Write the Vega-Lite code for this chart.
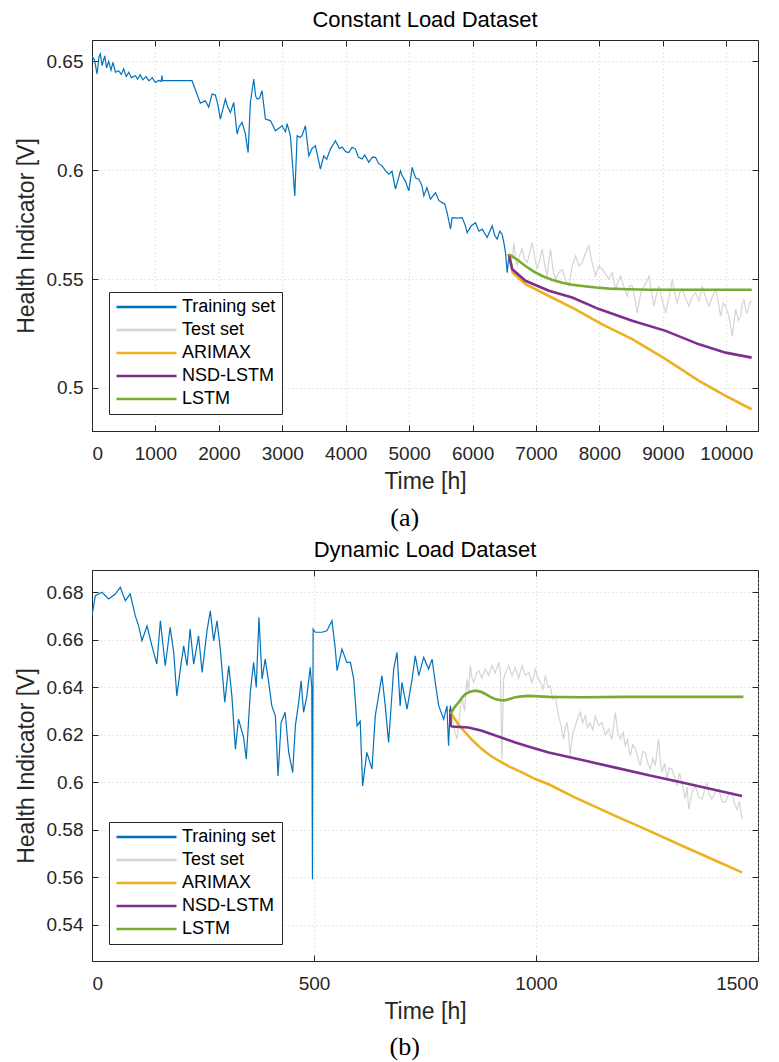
{
  "$schema": "https://vega.github.io/schema/vega-lite/v6.json",
  "background": "white",
  "padding": {"left": 14, "top": 8, "right": 20, "bottom": 0},
  "spacing": 7,
  "resolve": {"scale": {"color": "independent"}, "legend": {"color": "independent"}},
  "config": {
    "font": "Liberation Sans",
    "view": {"stroke": "#262626", "strokeWidth": 1},
    "axis": {
      "domainColor": "#262626", "tickColor": "#262626", "labelColor": "#262626", "titleColor": "#262626",
      "labelFont": "Liberation Sans", "titleFont": "Liberation Sans", "labelFontSize": 19, "titleFontSize": 23,
      "titleFontWeight": "normal", "tickSize": -6, "gridColor": "#cfcfcf", "gridDash": [1, 3], "gridWidth": 1
    },
    "title": {"font": "Liberation Sans", "fontSize": 22, "fontWeight": "normal", "color": "#000000"}
  },
  "datasets": {
    "a": [
      {"s": "Training set", "t": 0, "v": 0.6526}, {"s": "Training set", "t": 40, "v": 0.6505}, {"s": "Training set", "t": 79, "v": 0.6442}, {"s": "Training set", "t": 110, "v": 0.652}, {"s": "Training set", "t": 131, "v": 0.6534}, {"s": "Training set", "t": 160, "v": 0.648}, {"s": "Training set", "t": 200, "v": 0.6525}, {"s": "Training set", "t": 230, "v": 0.647}, {"s": "Training set", "t": 263, "v": 0.65}, {"s": "Training set", "t": 300, "v": 0.646}, {"s": "Training set", "t": 330, "v": 0.6495}, {"s": "Training set", "t": 370, "v": 0.645}, {"s": "Training set", "t": 420, "v": 0.6457}, {"s": "Training set", "t": 460, "v": 0.644}, {"s": "Training set", "t": 500, "v": 0.6465}, {"s": "Training set", "t": 540, "v": 0.643}, {"s": "Training set", "t": 580, "v": 0.645}, {"s": "Training set", "t": 620, "v": 0.6425}, {"s": "Training set", "t": 683, "v": 0.6434}, {"s": "Training set", "t": 720, "v": 0.6418}, {"s": "Training set", "t": 760, "v": 0.6438}, {"s": "Training set", "t": 800, "v": 0.6415}, {"s": "Training set", "t": 850, "v": 0.643}, {"s": "Training set", "t": 900, "v": 0.641}, {"s": "Training set", "t": 950, "v": 0.6425}, {"s": "Training set", "t": 999, "v": 0.6403}, {"s": "Training set", "t": 1050, "v": 0.6412}, {"s": "Training set", "t": 1090, "v": 0.6408}, {"s": "Training set", "t": 1104, "v": 0.6435}, {"s": "Training set", "t": 1110, "v": 0.6411}, {"s": "Training set", "t": 1577, "v": 0.6411}, {"s": "Training set", "t": 1708, "v": 0.6308}, {"s": "Training set", "t": 1787, "v": 0.6319}, {"s": "Training set", "t": 1840, "v": 0.629}, {"s": "Training set", "t": 1893, "v": 0.635}, {"s": "Training set", "t": 1945, "v": 0.6345}, {"s": "Training set", "t": 1985, "v": 0.63}, {"s": "Training set", "t": 2024, "v": 0.6235}, {"s": "Training set", "t": 2103, "v": 0.6327}, {"s": "Training set", "t": 2140, "v": 0.629}, {"s": "Training set", "t": 2182, "v": 0.6265}, {"s": "Training set", "t": 2235, "v": 0.6311}, {"s": "Training set", "t": 2287, "v": 0.6166}, {"s": "Training set", "t": 2320, "v": 0.62}, {"s": "Training set", "t": 2366, "v": 0.622}, {"s": "Training set", "t": 2419, "v": 0.6166}, {"s": "Training set", "t": 2461, "v": 0.6081}, {"s": "Training set", "t": 2497, "v": 0.6311}, {"s": "Training set", "t": 2550, "v": 0.6419}, {"s": "Training set", "t": 2580, "v": 0.634}, {"s": "Training set", "t": 2603, "v": 0.6327}, {"s": "Training set", "t": 2640, "v": 0.633}, {"s": "Training set", "t": 2681, "v": 0.6365}, {"s": "Training set", "t": 2734, "v": 0.6235}, {"s": "Training set", "t": 2813, "v": 0.6228}, {"s": "Training set", "t": 2892, "v": 0.6181}, {"s": "Training set", "t": 2997, "v": 0.6204}, {"s": "Training set", "t": 3050, "v": 0.6176}, {"s": "Training set", "t": 3076, "v": 0.6214}, {"s": "Training set", "t": 3128, "v": 0.6158}, {"s": "Training set", "t": 3197, "v": 0.5882}, {"s": "Training set", "t": 3234, "v": 0.6158}, {"s": "Training set", "t": 3280, "v": 0.615}, {"s": "Training set", "t": 3312, "v": 0.616}, {"s": "Training set", "t": 3365, "v": 0.6204}, {"s": "Training set", "t": 3418, "v": 0.6066}, {"s": "Training set", "t": 3470, "v": 0.61}, {"s": "Training set", "t": 3523, "v": 0.6112}, {"s": "Training set", "t": 3601, "v": 0.6005}, {"s": "Training set", "t": 3654, "v": 0.6066}, {"s": "Training set", "t": 3700, "v": 0.605}, {"s": "Training set", "t": 3759, "v": 0.6097}, {"s": "Training set", "t": 3838, "v": 0.6135}, {"s": "Training set", "t": 3900, "v": 0.61}, {"s": "Training set", "t": 3943, "v": 0.6106}, {"s": "Training set", "t": 4000, "v": 0.6085}, {"s": "Training set", "t": 4048, "v": 0.6081}, {"s": "Training set", "t": 4100, "v": 0.6105}, {"s": "Training set", "t": 4153, "v": 0.6097}, {"s": "Training set", "t": 4200, "v": 0.606}, {"s": "Training set", "t": 4259, "v": 0.6051}, {"s": "Training set", "t": 4300, "v": 0.607}, {"s": "Training set", "t": 4364, "v": 0.6036}, {"s": "Training set", "t": 4420, "v": 0.606}, {"s": "Training set", "t": 4469, "v": 0.6059}, {"s": "Training set", "t": 4520, "v": 0.603}, {"s": "Training set", "t": 4574, "v": 0.602}, {"s": "Training set", "t": 4620, "v": 0.6}, {"s": "Training set", "t": 4680, "v": 0.5982}, {"s": "Training set", "t": 4730, "v": 0.5995}, {"s": "Training set", "t": 4784, "v": 0.5913}, {"s": "Training set", "t": 4863, "v": 0.5997}, {"s": "Training set", "t": 4890, "v": 0.5974}, {"s": "Training set", "t": 4940, "v": 0.595}, {"s": "Training set", "t": 4995, "v": 0.5905}, {"s": "Training set", "t": 5047, "v": 0.6013}, {"s": "Training set", "t": 5100, "v": 0.5965}, {"s": "Training set", "t": 5153, "v": 0.5959}, {"s": "Training set", "t": 5200, "v": 0.593}, {"s": "Training set", "t": 5232, "v": 0.5882}, {"s": "Training set", "t": 5280, "v": 0.592}, {"s": "Training set", "t": 5336, "v": 0.5867}, {"s": "Training set", "t": 5415, "v": 0.5897}, {"s": "Training set", "t": 5470, "v": 0.586}, {"s": "Training set", "t": 5520, "v": 0.5851}, {"s": "Training set", "t": 5560, "v": 0.5845}, {"s": "Training set", "t": 5599, "v": 0.5805}, {"s": "Training set", "t": 5652, "v": 0.5729}, {"s": "Training set", "t": 5678, "v": 0.5782}, {"s": "Training set", "t": 5750, "v": 0.578}, {"s": "Training set", "t": 5836, "v": 0.5782}, {"s": "Training set", "t": 5880, "v": 0.575}, {"s": "Training set", "t": 5915, "v": 0.5713}, {"s": "Training set", "t": 5980, "v": 0.5745}, {"s": "Training set", "t": 6046, "v": 0.5759}, {"s": "Training set", "t": 6100, "v": 0.572}, {"s": "Training set", "t": 6151, "v": 0.5729}, {"s": "Training set", "t": 6230, "v": 0.5691}, {"s": "Training set", "t": 6309, "v": 0.5744}, {"s": "Training set", "t": 6350, "v": 0.57}, {"s": "Training set", "t": 6388, "v": 0.5683}, {"s": "Training set", "t": 6430, "v": 0.572}, {"s": "Training set", "t": 6467, "v": 0.5705}, {"s": "Training set", "t": 6493, "v": 0.5667}, {"s": "Training set", "t": 6520, "v": 0.562}, {"s": "Training set", "t": 6546, "v": 0.5529}, {"s": "Training set", "t": 6572, "v": 0.5606}, {"s": "Training set", "t": 6600, "v": 0.5614},
      {"s": "Test set", "t": 6600, "v": 0.5614}, {"s": "Test set", "t": 6625, "v": 0.559}, {"s": "Test set", "t": 6651, "v": 0.5667}, {"s": "Test set", "t": 6675, "v": 0.56}, {"s": "Test set", "t": 6703, "v": 0.556}, {"s": "Test set", "t": 6740, "v": 0.561}, {"s": "Test set", "t": 6782, "v": 0.5637}, {"s": "Test set", "t": 6820, "v": 0.559}, {"s": "Test set", "t": 6861, "v": 0.5575}, {"s": "Test set", "t": 6900, "v": 0.562}, {"s": "Test set", "t": 6940, "v": 0.5667}, {"s": "Test set", "t": 6980, "v": 0.56}, {"s": "Test set", "t": 7019, "v": 0.5545}, {"s": "Test set", "t": 7060, "v": 0.559}, {"s": "Test set", "t": 7098, "v": 0.5637}, {"s": "Test set", "t": 7140, "v": 0.556}, {"s": "Test set", "t": 7177, "v": 0.5514}, {"s": "Test set", "t": 7200, "v": 0.558}, {"s": "Test set", "t": 7229, "v": 0.5637}, {"s": "Test set", "t": 7270, "v": 0.554}, {"s": "Test set", "t": 7308, "v": 0.5499}, {"s": "Test set", "t": 7360, "v": 0.553}, {"s": "Test set", "t": 7413, "v": 0.5545}, {"s": "Test set", "t": 7460, "v": 0.55}, {"s": "Test set", "t": 7519, "v": 0.5468}, {"s": "Test set", "t": 7570, "v": 0.556}, {"s": "Test set", "t": 7624, "v": 0.5606}, {"s": "Test set", "t": 7680, "v": 0.556}, {"s": "Test set", "t": 7729, "v": 0.5575}, {"s": "Test set", "t": 7780, "v": 0.562}, {"s": "Test set", "t": 7834, "v": 0.5652}, {"s": "Test set", "t": 7880, "v": 0.558}, {"s": "Test set", "t": 7939, "v": 0.5514}, {"s": "Test set", "t": 7990, "v": 0.556}, {"s": "Test set", "t": 8044, "v": 0.5545}, {"s": "Test set", "t": 8100, "v": 0.552}, {"s": "Test set", "t": 8150, "v": 0.5499}, {"s": "Test set", "t": 8200, "v": 0.553}, {"s": "Test set", "t": 8255, "v": 0.5453}, {"s": "Test set", "t": 8300, "v": 0.549}, {"s": "Test set", "t": 8334, "v": 0.5514}, {"s": "Test set", "t": 8390, "v": 0.546}, {"s": "Test set", "t": 8439, "v": 0.5422}, {"s": "Test set", "t": 8480, "v": 0.547}, {"s": "Test set", "t": 8517, "v": 0.5468}, {"s": "Test set", "t": 8560, "v": 0.541}, {"s": "Test set", "t": 8596, "v": 0.5345}, {"s": "Test set", "t": 8640, "v": 0.542}, {"s": "Test set", "t": 8675, "v": 0.5453}, {"s": "Test set", "t": 8730, "v": 0.548}, {"s": "Test set", "t": 8781, "v": 0.5514}, {"s": "Test set", "t": 8820, "v": 0.544}, {"s": "Test set", "t": 8860, "v": 0.5376}, {"s": "Test set", "t": 8900, "v": 0.543}, {"s": "Test set", "t": 8938, "v": 0.5468}, {"s": "Test set", "t": 8990, "v": 0.54}, {"s": "Test set", "t": 9044, "v": 0.5345}, {"s": "Test set", "t": 9100, "v": 0.542}, {"s": "Test set", "t": 9149, "v": 0.5499}, {"s": "Test set", "t": 9190, "v": 0.543}, {"s": "Test set", "t": 9228, "v": 0.5391}, {"s": "Test set", "t": 9270, "v": 0.544}, {"s": "Test set", "t": 9306, "v": 0.5453}, {"s": "Test set", "t": 9360, "v": 0.541}, {"s": "Test set", "t": 9412, "v": 0.5376}, {"s": "Test set", "t": 9460, "v": 0.542}, {"s": "Test set", "t": 9517, "v": 0.5437}, {"s": "Test set", "t": 9570, "v": 0.54}, {"s": "Test set", "t": 9621, "v": 0.5468}, {"s": "Test set", "t": 9670, "v": 0.542}, {"s": "Test set", "t": 9727, "v": 0.5376}, {"s": "Test set", "t": 9780, "v": 0.542}, {"s": "Test set", "t": 9832, "v": 0.5453}, {"s": "Test set", "t": 9870, "v": 0.54}, {"s": "Test set", "t": 9911, "v": 0.533}, {"s": "Test set", "t": 9950, "v": 0.539}, {"s": "Test set", "t": 9990, "v": 0.5376}, {"s": "Test set", "t": 10040, "v": 0.533}, {"s": "Test set", "t": 10095, "v": 0.5238}, {"s": "Test set", "t": 10120, "v": 0.53}, {"s": "Test set", "t": 10147, "v": 0.5361}, {"s": "Test set", "t": 10190, "v": 0.531}, {"s": "Test set", "t": 10226, "v": 0.533}, {"s": "Test set", "t": 10250, "v": 0.538}, {"s": "Test set", "t": 10279, "v": 0.5407}, {"s": "Test set", "t": 10310, "v": 0.535}, {"s": "Test set", "t": 10331, "v": 0.5345}, {"s": "Test set", "t": 10370, "v": 0.539}, {"s": "Test set", "t": 10400, "v": 0.5399},
      {"s": "ARIMAX", "t": 6572, "v": 0.5614}, {"s": "ARIMAX", "t": 6635, "v": 0.5529}, {"s": "ARIMAX", "t": 6834, "v": 0.5476}, {"s": "ARIMAX", "t": 7203, "v": 0.5422}, {"s": "ARIMAX", "t": 7624, "v": 0.5361}, {"s": "ARIMAX", "t": 8044, "v": 0.5292}, {"s": "ARIMAX", "t": 8517, "v": 0.5224}, {"s": "ARIMAX", "t": 9044, "v": 0.5132}, {"s": "ARIMAX", "t": 9570, "v": 0.5032}, {"s": "ARIMAX", "t": 9990, "v": 0.4963}, {"s": "ARIMAX", "t": 10400, "v": 0.4902},
      {"s": "NSD-LSTM", "t": 6572, "v": 0.5614}, {"s": "NSD-LSTM", "t": 6625, "v": 0.5545}, {"s": "NSD-LSTM", "t": 6834, "v": 0.5492}, {"s": "NSD-LSTM", "t": 7203, "v": 0.5446}, {"s": "NSD-LSTM", "t": 7571, "v": 0.5415}, {"s": "NSD-LSTM", "t": 7992, "v": 0.5362}, {"s": "NSD-LSTM", "t": 8517, "v": 0.5308}, {"s": "NSD-LSTM", "t": 9044, "v": 0.5262}, {"s": "NSD-LSTM", "t": 9570, "v": 0.52}, {"s": "NSD-LSTM", "t": 9990, "v": 0.5162}, {"s": "NSD-LSTM", "t": 10400, "v": 0.5139},
      {"s": "LSTM", "t": 6572, "v": 0.5614}, {"s": "LSTM", "t": 6700, "v": 0.559}, {"s": "LSTM", "t": 6834, "v": 0.556}, {"s": "LSTM", "t": 6960, "v": 0.5535}, {"s": "LSTM", "t": 7098, "v": 0.5514}, {"s": "LSTM", "t": 7250, "v": 0.5497}, {"s": "LSTM", "t": 7413, "v": 0.5483}, {"s": "LSTM", "t": 7570, "v": 0.5474}, {"s": "LSTM", "t": 7729, "v": 0.5468}, {"s": "LSTM", "t": 7950, "v": 0.5461}, {"s": "LSTM", "t": 8150, "v": 0.5456}, {"s": "LSTM", "t": 8450, "v": 0.5453}, {"s": "LSTM", "t": 8781, "v": 0.5451}, {"s": "LSTM", "t": 9500, "v": 0.5451}, {"s": "LSTM", "t": 10400, "v": 0.5451}
    ],
    "b": [
      {"s": "Training set", "t": 0, "v": 0.6701}, {"s": "Training set", "t": 7.5, "v": 0.6786}, {"s": "Training set", "t": 22.5, "v": 0.68}, {"s": "Training set", "t": 37.6, "v": 0.6772}, {"s": "Training set", "t": 52.5, "v": 0.6793}, {"s": "Training set", "t": 63.7, "v": 0.6821}, {"s": "Training set", "t": 75, "v": 0.6765}, {"s": "Training set", "t": 86, "v": 0.6793}, {"s": "Training set", "t": 97.5, "v": 0.6701}, {"s": "Training set", "t": 105, "v": 0.6659}, {"s": "Training set", "t": 112.6, "v": 0.6596}, {"s": "Training set", "t": 124, "v": 0.6659}, {"s": "Training set", "t": 135, "v": 0.6575}, {"s": "Training set", "t": 146, "v": 0.6498}, {"s": "Training set", "t": 154, "v": 0.668}, {"s": "Training set", "t": 165, "v": 0.6491}, {"s": "Training set", "t": 176, "v": 0.6653}, {"s": "Training set", "t": 184, "v": 0.6547}, {"s": "Training set", "t": 191, "v": 0.6364}, {"s": "Training set", "t": 199, "v": 0.6477}, {"s": "Training set", "t": 206.5, "v": 0.6575}, {"s": "Training set", "t": 214, "v": 0.6491}, {"s": "Training set", "t": 221, "v": 0.6645}, {"s": "Training set", "t": 229, "v": 0.6498}, {"s": "Training set", "t": 240, "v": 0.6617}, {"s": "Training set", "t": 248, "v": 0.6463}, {"s": "Training set", "t": 259, "v": 0.6638}, {"s": "Training set", "t": 266.5, "v": 0.6722}, {"s": "Training set", "t": 274, "v": 0.6596}, {"s": "Training set", "t": 281.5, "v": 0.668}, {"s": "Training set", "t": 289, "v": 0.6561}, {"s": "Training set", "t": 299, "v": 0.6337}, {"s": "Training set", "t": 308, "v": 0.6491}, {"s": "Training set", "t": 315, "v": 0.6364}, {"s": "Training set", "t": 323, "v": 0.614}, {"s": "Training set", "t": 330, "v": 0.6266}, {"s": "Training set", "t": 341.5, "v": 0.6189}, {"s": "Training set", "t": 347.5, "v": 0.6098}, {"s": "Training set", "t": 356.5, "v": 0.6379}, {"s": "Training set", "t": 364, "v": 0.6505}, {"s": "Training set", "t": 370, "v": 0.64}, {"s": "Training set", "t": 376, "v": 0.6695}, {"s": "Training set", "t": 383, "v": 0.6435}, {"s": "Training set", "t": 390, "v": 0.6519}, {"s": "Training set", "t": 398, "v": 0.6421}, {"s": "Training set", "t": 405, "v": 0.6322}, {"s": "Training set", "t": 413, "v": 0.628}, {"s": "Training set", "t": 419, "v": 0.6027}, {"s": "Training set", "t": 426, "v": 0.6252}, {"s": "Training set", "t": 435, "v": 0.6295}, {"s": "Training set", "t": 443, "v": 0.6126}, {"s": "Training set", "t": 452, "v": 0.6042}, {"s": "Training set", "t": 458, "v": 0.6238}, {"s": "Training set", "t": 465.5, "v": 0.6337}, {"s": "Training set", "t": 471, "v": 0.6428}, {"s": "Training set", "t": 476.5, "v": 0.6295}, {"s": "Training set", "t": 484, "v": 0.6364}, {"s": "Training set", "t": 491.5, "v": 0.6484}, {"s": "Training set", "t": 495, "v": 0.64}, {"s": "Training set", "t": 496.5, "v": 0.5592}, {"s": "Training set", "t": 498, "v": 0.6645}, {"s": "Training set", "t": 503, "v": 0.6632}, {"s": "Training set", "t": 518, "v": 0.6632}, {"s": "Training set", "t": 529, "v": 0.6638}, {"s": "Training set", "t": 540.5, "v": 0.668}, {"s": "Training set", "t": 548, "v": 0.6561}, {"s": "Training set", "t": 552, "v": 0.647}, {"s": "Training set", "t": 563, "v": 0.6561}, {"s": "Training set", "t": 574, "v": 0.6505}, {"s": "Training set", "t": 582, "v": 0.6505}, {"s": "Training set", "t": 589.5, "v": 0.6435}, {"s": "Training set", "t": 597, "v": 0.6238}, {"s": "Training set", "t": 604, "v": 0.6258}, {"s": "Training set", "t": 609.5, "v": 0.5985}, {"s": "Training set", "t": 619, "v": 0.6126}, {"s": "Training set", "t": 630.6, "v": 0.6056}, {"s": "Training set", "t": 638, "v": 0.628}, {"s": "Training set", "t": 653, "v": 0.6449}, {"s": "Training set", "t": 660.5, "v": 0.6322}, {"s": "Training set", "t": 668, "v": 0.6168}, {"s": "Training set", "t": 679.5, "v": 0.6477}, {"s": "Training set", "t": 687, "v": 0.6547}, {"s": "Training set", "t": 694, "v": 0.6322}, {"s": "Training set", "t": 698, "v": 0.6421}, {"s": "Training set", "t": 709.5, "v": 0.6308}, {"s": "Training set", "t": 721, "v": 0.6435}, {"s": "Training set", "t": 728, "v": 0.6533}, {"s": "Training set", "t": 736, "v": 0.6449}, {"s": "Training set", "t": 747, "v": 0.6526}, {"s": "Training set", "t": 758, "v": 0.6477}, {"s": "Training set", "t": 766, "v": 0.6519}, {"s": "Training set", "t": 773, "v": 0.6421}, {"s": "Training set", "t": 781, "v": 0.6322}, {"s": "Training set", "t": 792, "v": 0.6266}, {"s": "Training set", "t": 799.5, "v": 0.6322}, {"s": "Training set", "t": 803, "v": 0.6154}, {"s": "Training set", "t": 807, "v": 0.6322}, {"s": "Training set", "t": 811, "v": 0.628},
      {"s": "Test set", "t": 811, "v": 0.628}, {"s": "Test set", "t": 816, "v": 0.622}, {"s": "Test set", "t": 822, "v": 0.6182}, {"s": "Test set", "t": 828, "v": 0.628}, {"s": "Test set", "t": 833, "v": 0.6364}, {"s": "Test set", "t": 839, "v": 0.63}, {"s": "Test set", "t": 844.6, "v": 0.6435}, {"s": "Test set", "t": 848, "v": 0.638}, {"s": "Test set", "t": 852, "v": 0.6491}, {"s": "Test set", "t": 856, "v": 0.644}, {"s": "Test set", "t": 860, "v": 0.6421}, {"s": "Test set", "t": 866, "v": 0.646}, {"s": "Test set", "t": 871, "v": 0.647}, {"s": "Test set", "t": 878, "v": 0.644}, {"s": "Test set", "t": 886, "v": 0.6477}, {"s": "Test set", "t": 893, "v": 0.645}, {"s": "Test set", "t": 901, "v": 0.6491}, {"s": "Test set", "t": 908, "v": 0.646}, {"s": "Test set", "t": 916, "v": 0.6505}, {"s": "Test set", "t": 920, "v": 0.646}, {"s": "Test set", "t": 923, "v": 0.6098}, {"s": "Test set", "t": 927, "v": 0.6435}, {"s": "Test set", "t": 933, "v": 0.647}, {"s": "Test set", "t": 938.5, "v": 0.6491}, {"s": "Test set", "t": 946, "v": 0.645}, {"s": "Test set", "t": 953.5, "v": 0.6484}, {"s": "Test set", "t": 961, "v": 0.644}, {"s": "Test set", "t": 968.5, "v": 0.6491}, {"s": "Test set", "t": 976, "v": 0.645}, {"s": "Test set", "t": 983.5, "v": 0.6463}, {"s": "Test set", "t": 991, "v": 0.642}, {"s": "Test set", "t": 998.5, "v": 0.6477}, {"s": "Test set", "t": 1004, "v": 0.644}, {"s": "Test set", "t": 1010, "v": 0.6421}, {"s": "Test set", "t": 1016, "v": 0.639}, {"s": "Test set", "t": 1021, "v": 0.6449}, {"s": "Test set", "t": 1027, "v": 0.64}, {"s": "Test set", "t": 1032, "v": 0.6407}, {"s": "Test set", "t": 1038, "v": 0.635}, {"s": "Test set", "t": 1043.5, "v": 0.6364}, {"s": "Test set", "t": 1047, "v": 0.632}, {"s": "Test set", "t": 1051, "v": 0.628}, {"s": "Test set", "t": 1056, "v": 0.624}, {"s": "Test set", "t": 1062, "v": 0.6182}, {"s": "Test set", "t": 1066, "v": 0.623}, {"s": "Test set", "t": 1070, "v": 0.6252}, {"s": "Test set", "t": 1074, "v": 0.619}, {"s": "Test set", "t": 1077, "v": 0.6112}, {"s": "Test set", "t": 1082, "v": 0.62}, {"s": "Test set", "t": 1088.5, "v": 0.6238}, {"s": "Test set", "t": 1094, "v": 0.627}, {"s": "Test set", "t": 1100, "v": 0.6295}, {"s": "Test set", "t": 1105, "v": 0.625}, {"s": "Test set", "t": 1111, "v": 0.628}, {"s": "Test set", "t": 1116, "v": 0.623}, {"s": "Test set", "t": 1122, "v": 0.6252}, {"s": "Test set", "t": 1128, "v": 0.622}, {"s": "Test set", "t": 1133.5, "v": 0.628}, {"s": "Test set", "t": 1141, "v": 0.624}, {"s": "Test set", "t": 1148.6, "v": 0.6252}, {"s": "Test set", "t": 1156, "v": 0.62}, {"s": "Test set", "t": 1163.7, "v": 0.6224}, {"s": "Test set", "t": 1171, "v": 0.618}, {"s": "Test set", "t": 1178.6, "v": 0.6295}, {"s": "Test set", "t": 1184, "v": 0.621}, {"s": "Test set", "t": 1190, "v": 0.6182}, {"s": "Test set", "t": 1196, "v": 0.621}, {"s": "Test set", "t": 1201, "v": 0.6154}, {"s": "Test set", "t": 1206, "v": 0.618}, {"s": "Test set", "t": 1212, "v": 0.6112}, {"s": "Test set", "t": 1218, "v": 0.616}, {"s": "Test set", "t": 1224, "v": 0.614}, {"s": "Test set", "t": 1230, "v": 0.61}, {"s": "Test set", "t": 1235, "v": 0.607}, {"s": "Test set", "t": 1240, "v": 0.613}, {"s": "Test set", "t": 1246, "v": 0.6126}, {"s": "Test set", "t": 1252, "v": 0.608}, {"s": "Test set", "t": 1257.4, "v": 0.6056}, {"s": "Test set", "t": 1263, "v": 0.61}, {"s": "Test set", "t": 1268.7, "v": 0.607}, {"s": "Test set", "t": 1276, "v": 0.6182}, {"s": "Test set", "t": 1280, "v": 0.609}, {"s": "Test set", "t": 1283.8, "v": 0.6042}, {"s": "Test set", "t": 1290, "v": 0.608}, {"s": "Test set", "t": 1295, "v": 0.6014}, {"s": "Test set", "t": 1300, "v": 0.606}, {"s": "Test set", "t": 1306, "v": 0.6056}, {"s": "Test set", "t": 1312, "v": 0.602}, {"s": "Test set", "t": 1317.6, "v": 0.5985}, {"s": "Test set", "t": 1323, "v": 0.604}, {"s": "Test set", "t": 1328.8, "v": 0.5999}, {"s": "Test set", "t": 1336, "v": 0.5929}, {"s": "Test set", "t": 1340, "v": 0.598}, {"s": "Test set", "t": 1344, "v": 0.5887}, {"s": "Test set", "t": 1352, "v": 0.596}, {"s": "Test set", "t": 1359, "v": 0.5985}, {"s": "Test set", "t": 1366, "v": 0.594}, {"s": "Test set", "t": 1374, "v": 0.5929}, {"s": "Test set", "t": 1380, "v": 0.597}, {"s": "Test set", "t": 1385, "v": 0.5999}, {"s": "Test set", "t": 1390, "v": 0.595}, {"s": "Test set", "t": 1396, "v": 0.5929}, {"s": "Test set", "t": 1404, "v": 0.596}, {"s": "Test set", "t": 1411.5, "v": 0.5971}, {"s": "Test set", "t": 1419, "v": 0.592}, {"s": "Test set", "t": 1426.4, "v": 0.5915}, {"s": "Test set", "t": 1434, "v": 0.595}, {"s": "Test set", "t": 1441.4, "v": 0.5958}, {"s": "Test set", "t": 1447, "v": 0.591}, {"s": "Test set", "t": 1452.7, "v": 0.5887}, {"s": "Test set", "t": 1458, "v": 0.592}, {"s": "Test set", "t": 1464, "v": 0.5845},
      {"s": "ARIMAX", "t": 807, "v": 0.63}, {"s": "ARIMAX", "t": 814.6, "v": 0.6273}, {"s": "ARIMAX", "t": 827, "v": 0.624}, {"s": "ARIMAX", "t": 841, "v": 0.621}, {"s": "ARIMAX", "t": 858, "v": 0.6175}, {"s": "ARIMAX", "t": 878, "v": 0.614}, {"s": "ARIMAX", "t": 896, "v": 0.6114}, {"s": "ARIMAX", "t": 916, "v": 0.6091}, {"s": "ARIMAX", "t": 940, "v": 0.6066}, {"s": "ARIMAX", "t": 968.5, "v": 0.6042}, {"s": "ARIMAX", "t": 998.5, "v": 0.6014}, {"s": "ARIMAX", "t": 1028.6, "v": 0.5992}, {"s": "ARIMAX", "t": 1088.5, "v": 0.5936}, {"s": "ARIMAX", "t": 1178.6, "v": 0.5859}, {"s": "ARIMAX", "t": 1250, "v": 0.58}, {"s": "ARIMAX", "t": 1328.8, "v": 0.5733}, {"s": "ARIMAX", "t": 1400, "v": 0.5674}, {"s": "ARIMAX", "t": 1464, "v": 0.5621},
      {"s": "NSD-LSTM", "t": 807, "v": 0.6308}, {"s": "NSD-LSTM", "t": 808, "v": 0.6238}, {"s": "NSD-LSTM", "t": 811, "v": 0.6235}, {"s": "NSD-LSTM", "t": 848, "v": 0.6231}, {"s": "NSD-LSTM", "t": 878, "v": 0.6217}, {"s": "NSD-LSTM", "t": 915, "v": 0.6193}, {"s": "NSD-LSTM", "t": 953.5, "v": 0.6168}, {"s": "NSD-LSTM", "t": 990, "v": 0.6147}, {"s": "NSD-LSTM", "t": 1028.6, "v": 0.6126}, {"s": "NSD-LSTM", "t": 1104, "v": 0.6094}, {"s": "NSD-LSTM", "t": 1179, "v": 0.6062}, {"s": "NSD-LSTM", "t": 1254, "v": 0.603}, {"s": "NSD-LSTM", "t": 1329, "v": 0.5999}, {"s": "NSD-LSTM", "t": 1404, "v": 0.5968}, {"s": "NSD-LSTM", "t": 1464, "v": 0.5943},
      {"s": "LSTM", "t": 807, "v": 0.6287}, {"s": "LSTM", "t": 816, "v": 0.6315}, {"s": "LSTM", "t": 826, "v": 0.6337}, {"s": "LSTM", "t": 834, "v": 0.6358}, {"s": "LSTM", "t": 841, "v": 0.6372}, {"s": "LSTM", "t": 852, "v": 0.6382}, {"s": "LSTM", "t": 863, "v": 0.6386}, {"s": "LSTM", "t": 875, "v": 0.6382}, {"s": "LSTM", "t": 886, "v": 0.6372}, {"s": "LSTM", "t": 897, "v": 0.636}, {"s": "LSTM", "t": 908, "v": 0.6351}, {"s": "LSTM", "t": 920, "v": 0.6346}, {"s": "LSTM", "t": 931, "v": 0.6346}, {"s": "LSTM", "t": 942, "v": 0.6352}, {"s": "LSTM", "t": 953, "v": 0.6358}, {"s": "LSTM", "t": 968, "v": 0.6362}, {"s": "LSTM", "t": 983.5, "v": 0.6364}, {"s": "LSTM", "t": 1005, "v": 0.6362}, {"s": "LSTM", "t": 1028.6, "v": 0.636}, {"s": "LSTM", "t": 1103.6, "v": 0.6358}, {"s": "LSTM", "t": 1200, "v": 0.636}, {"s": "LSTM", "t": 1300, "v": 0.636}, {"s": "LSTM", "t": 1467, "v": 0.636}
    ]
  },
  "vconcat": [
    {
      "title": {"text": "(a)", "orient": "bottom", "anchor": "middle", "font": "Liberation Serif", "fontSize": 26, "offset": 11, "dx": 18},
      "resolve": {"scale": {"color": "independent"}, "legend": {"color": "independent"}},
      "vconcat": [
        {
          "width": 666, "height": 391,
          "title": {"text": "Constant Load Dataset", "offset": 8},
          "data": {"name": "a"},
          "layer": [
            {
              "transform": [{"filter": "datum.s === 'Training set'"}],
              "mark": {"type": "line", "strokeWidth": 1.2, "clip": true},
              "encoding": {
                "x": {"field": "t", "type": "quantitative", "scale": {"domain": [0, 10500], "nice": false, "zero": false},
                      "axis": {"orient": "bottom", "title": "Time [h]", "values": [0, 1000, 2000, 3000, 4000, 5000, 6000, 7000, 8000, 9000, 10000], "format": "d", "grid": true, "labelPadding": 19, "titlePadding": 7}},
                "y": {"field": "v", "type": "quantitative", "scale": {"domain": [0.4802, 0.6598], "nice": false, "zero": false},
                      "axis": {"orient": "left", "title": "Health Indicator [V]", "values": [0.5, 0.55, 0.6, 0.65], "format": ".2~f", "grid": true, "labelPadding": 15, "titlePadding": 8}},
                "color": {"field": "s", "type": "nominal",
                          "scale": {"domain": ["Training set", "Test set", "ARIMAX", "NSD-LSTM", "LSTM"], "range": ["#0072BD", "#D4D4D4", "#EDB120", "#7E2F8E", "#77AC30"]},
                          "legend": {"title": null, "orient": "bottom-left", "offset": 17, "strokeColor": "#262626", "fillColor": "white", "padding": 6, "symbolType": "M-1,0H7", "symbolSize": 225, "symbolStrokeWidth": 2.5, "labelFontSize": 18, "labelFont": "Liberation Sans", "labelColor": "#000000", "labelOffset": 49, "rowPadding": 5, "cornerRadius": 0}}
              }
            },
            {
              "transform": [{"filter": "datum.s === 'Test set'"}],
              "mark": {"type": "line", "strokeWidth": 1.2, "clip": true},
              "encoding": {
                "x": {"field": "t", "type": "quantitative", "scale": {"domain": [0, 10500], "nice": false, "zero": false},
                      "axis": {"orient": "top", "title": null, "labels": false, "grid": false, "domain": false, "values": [0, 1000, 2000, 3000, 4000, 5000, 6000, 7000, 8000, 9000, 10000]}},
                "y": {"field": "v", "type": "quantitative", "scale": {"domain": [0.4802, 0.6598], "nice": false, "zero": false},
                      "axis": {"orient": "right", "title": null, "labels": false, "grid": false, "domain": false, "values": [0.5, 0.55, 0.6, 0.65]}},
                "color": {"field": "s", "type": "nominal", "legend": null}
              }
            },
            {
              "transform": [{"filter": "datum.s === 'ARIMAX'"}],
              "mark": {"type": "line", "strokeWidth": 2.6, "clip": true},
              "encoding": {
                "x": {"field": "t", "type": "quantitative", "axis": null},
                "y": {"field": "v", "type": "quantitative", "axis": null},
                "color": {"field": "s", "type": "nominal", "legend": null}
              }
            },
            {
              "transform": [{"filter": "datum.s === 'NSD-LSTM'"}],
              "mark": {"type": "line", "strokeWidth": 2.6, "clip": true},
              "encoding": {
                "x": {"field": "t", "type": "quantitative", "axis": null},
                "y": {"field": "v", "type": "quantitative", "axis": null},
                "color": {"field": "s", "type": "nominal", "legend": null}
              }
            },
            {
              "transform": [{"filter": "datum.s === 'LSTM'"}],
              "mark": {"type": "line", "strokeWidth": 2.6, "clip": true},
              "encoding": {
                "x": {"field": "t", "type": "quantitative", "axis": null},
                "y": {"field": "v", "type": "quantitative", "axis": null},
                "color": {"field": "s", "type": "nominal", "legend": null}
              }
            }
          ]
        }
      ]
    },
    {
      "title": {"text": "(b)", "orient": "bottom", "anchor": "middle", "font": "Liberation Serif", "fontSize": 26, "offset": 10, "dx": 18},
      "resolve": {"scale": {"color": "independent"}, "legend": {"color": "independent"}},
      "vconcat": [
        {
          "width": 666, "height": 391,
          "title": {"text": "Dynamic Load Dataset", "offset": 8},
          "data": {"name": "b"},
          "layer": [
            {
              "transform": [{"filter": "datum.s === 'Training set'"}],
              "mark": {"type": "line", "strokeWidth": 1.2, "clip": true},
              "encoding": {
                "x": {"field": "t", "type": "quantitative", "scale": {"domain": [0, 1500], "nice": false, "zero": false},
                      "axis": {"orient": "bottom", "title": "Time [h]", "values": [0, 500, 1000, 1500], "format": "d", "grid": true, "labelPadding": 19, "titlePadding": 7}},
                "y": {"field": "v", "type": "quantitative", "scale": {"domain": [0.5248, 0.6894], "nice": false, "zero": false},
                      "axis": {"orient": "left", "title": "Health Indicator [V]", "values": [0.54, 0.56, 0.58, 0.6, 0.62, 0.64, 0.66, 0.68], "format": ".2~f", "grid": true, "labelPadding": 15, "titlePadding": 8}},
                "color": {"field": "s", "type": "nominal",
                          "scale": {"domain": ["Training set", "Test set", "ARIMAX", "NSD-LSTM", "LSTM"], "range": ["#0072BD", "#D4D4D4", "#EDB120", "#7E2F8E", "#77AC30"]},
                          "legend": {"title": null, "orient": "bottom-left", "offset": 17, "strokeColor": "#262626", "fillColor": "white", "padding": 6, "symbolType": "M-1,0H7", "symbolSize": 225, "symbolStrokeWidth": 2.5, "labelFontSize": 18, "labelFont": "Liberation Sans", "labelColor": "#000000", "labelOffset": 49, "rowPadding": 5, "cornerRadius": 0}}
              }
            },
            {
              "transform": [{"filter": "datum.s === 'Test set'"}],
              "mark": {"type": "line", "strokeWidth": 1.2, "clip": true},
              "encoding": {
                "x": {"field": "t", "type": "quantitative", "scale": {"domain": [0, 1500], "nice": false, "zero": false},
                      "axis": {"orient": "top", "title": null, "labels": false, "grid": false, "domain": false, "values": [0, 500, 1000, 1500]}},
                "y": {"field": "v", "type": "quantitative", "scale": {"domain": [0.5248, 0.6894], "nice": false, "zero": false},
                      "axis": {"orient": "right", "title": null, "labels": false, "grid": false, "domain": false, "values": [0.54, 0.56, 0.58, 0.6, 0.62, 0.64, 0.66, 0.68]}},
                "color": {"field": "s", "type": "nominal", "legend": null}
              }
            },
            {
              "transform": [{"filter": "datum.s === 'ARIMAX'"}],
              "mark": {"type": "line", "strokeWidth": 2.6, "clip": true},
              "encoding": {
                "x": {"field": "t", "type": "quantitative", "axis": null},
                "y": {"field": "v", "type": "quantitative", "axis": null},
                "color": {"field": "s", "type": "nominal", "legend": null}
              }
            },
            {
              "transform": [{"filter": "datum.s === 'NSD-LSTM'"}],
              "mark": {"type": "line", "strokeWidth": 2.6, "clip": true},
              "encoding": {
                "x": {"field": "t", "type": "quantitative", "axis": null},
                "y": {"field": "v", "type": "quantitative", "axis": null},
                "color": {"field": "s", "type": "nominal", "legend": null}
              }
            },
            {
              "transform": [{"filter": "datum.s === 'LSTM'"}],
              "mark": {"type": "line", "strokeWidth": 2.6, "clip": true},
              "encoding": {
                "x": {"field": "t", "type": "quantitative", "axis": null},
                "y": {"field": "v", "type": "quantitative", "axis": null},
                "color": {"field": "s", "type": "nominal", "legend": null}
              }
            }
          ]
        }
      ]
    }
  ]
}
